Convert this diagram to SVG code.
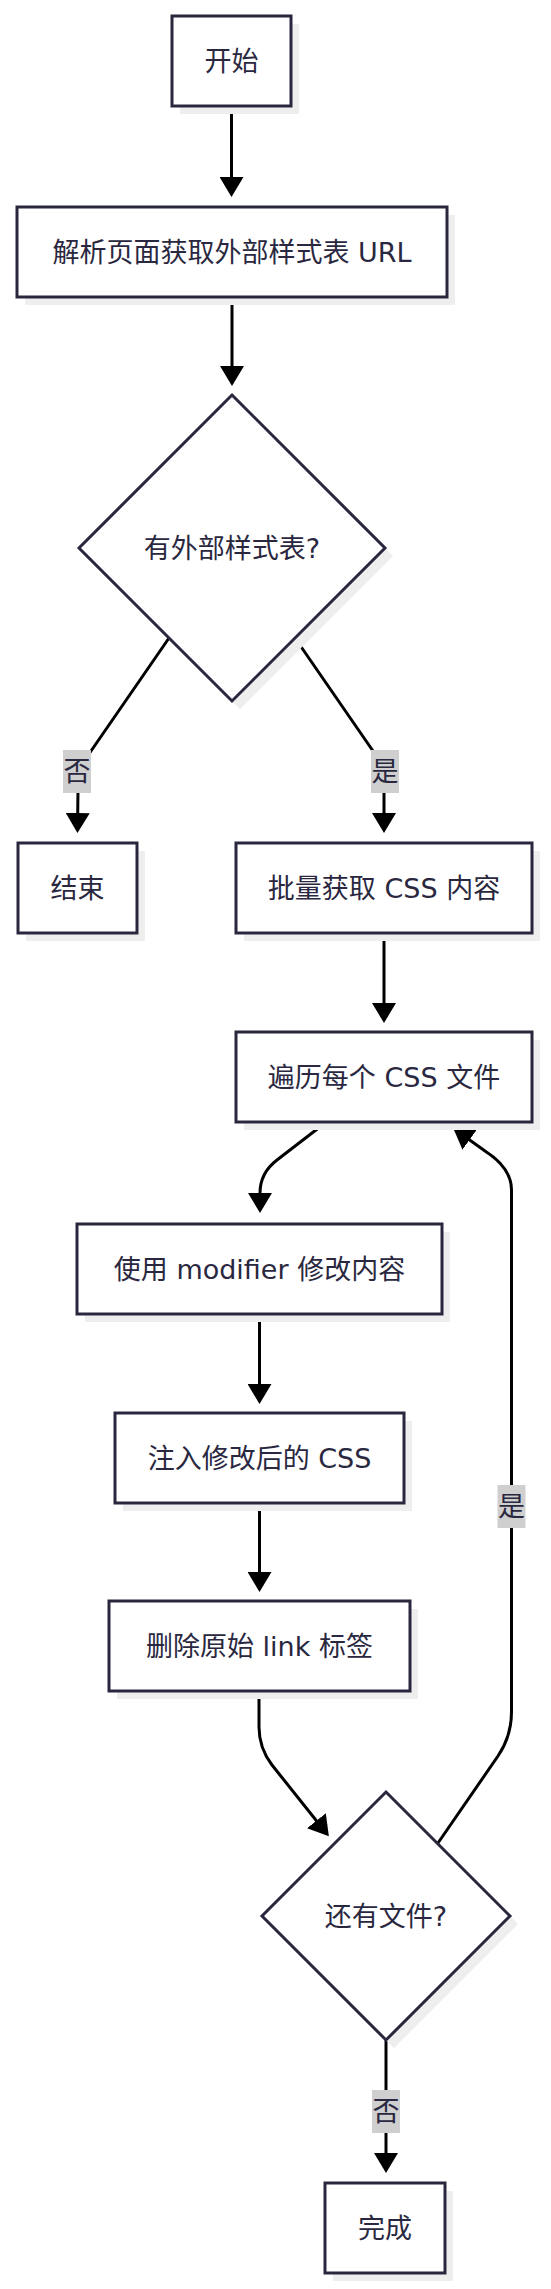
<svg xmlns="http://www.w3.org/2000/svg" width="551" height="2289" viewBox="0 0 551 2289">
<style>
  .bg { fill: #ffffff; }
  .node { fill: #ffffff; stroke: #28273d; stroke-width: 3; }
  .shadow { fill: #eeeeee; stroke: none; }
  .txt { font-family: "DejaVu Sans", "Noto Sans CJK SC", sans-serif; font-size: 27px; fill: #2a2840; text-anchor: middle; }
  .edge { fill: none; stroke: #000000; stroke-width: 3; marker-end: url(#arrow); }
  .lblbg { fill: #cfcfcf; stroke: none; }
</style>
<defs>
  <marker id="arrow" markerUnits="userSpaceOnUse" markerWidth="20" markerHeight="24" viewBox="0 0 20 24" refX="17" refY="12" orient="auto">
    <path d="M0,0 L20,12 L0,24 z" fill="#000000"/>
  </marker>
</defs>
<rect class="bg" x="0" y="0" width="551" height="2289"/>

<g id="connectors">
  <path class="edge" d="M231.5,107 L231.5,194"/>
  <path class="edge" d="M232,298 L232,383"/>
  <path class="edge" d="M169,638 L91,751 Q78,770 78,790 L77.5,830"/>
  <path class="edge" d="M295,638 L373,751 Q384,767 384,790 L384,830"/>
  <path class="edge" d="M384,934 L384,1020"/>
  <path class="edge" d="M325,1123 L277,1160 Q260,1173 260,1193 L260,1210"/>
  <path class="edge" d="M259.5,1315 L259.5,1401"/>
  <path class="edge" d="M259.5,1504 L259.5,1589"/>
  <path class="edge" d="M259,1692 L259,1727 Q259,1748 272,1765 L327,1834"/>
  <path class="edge" d="M386,2040 L386,2170"/>
  <path class="edge" d="M438,1843 L498,1756 Q511.5,1736 511.5,1712 L511.5,1190 Q511.5,1168 485,1151 L455.7,1130"/>
</g>

<g id="edge-labels">
  <g id="label-no-1">
    <rect class="lblbg" x="63" y="750" width="28" height="43"/>
    <text class="txt" x="77" y="781">否</text>
  </g>
  <g id="label-yes-1">
    <rect class="lblbg" x="371" y="750" width="28" height="43"/>
    <text class="txt" x="385" y="781">是</text>
  </g>
  <g id="label-yes-2">
    <rect class="lblbg" x="497.5" y="1485" width="28" height="43"/>
    <text class="txt" x="511.5" y="1516">是</text>
  </g>
  <g id="label-no-2">
    <rect class="lblbg" x="372" y="2090" width="28" height="43"/>
    <text class="txt" x="386" y="2121">否</text>
  </g>
</g>

<g id="node-start">
  <rect class="shadow" x="180" y="24" width="119" height="90"/>
  <rect class="node" x="172" y="16" width="119" height="90"/>
  <text class="txt" x="231.5" y="70.5">开始</text>
</g>

<g id="node-parse">
  <rect class="shadow" x="25" y="215" width="430" height="90"/>
  <rect class="node" x="17" y="207" width="430" height="90"/>
  <text class="txt" x="232" y="261.5">解析页面获取外部样式表 URL</text>
</g>

<g id="node-has-external">
  <polygon class="shadow" points="240,403 393,556 240,709 87,556"/>
  <polygon class="node" points="232,395 385,548 232,701 79,548"/>
  <text class="txt" x="232" y="557.5">有外部样式表?</text>
</g>

<g id="node-end">
  <rect class="shadow" x="26" y="851" width="119" height="90"/>
  <rect class="node" x="18" y="843" width="119" height="90"/>
  <text class="txt" x="77.5" y="897.5">结束</text>
</g>

<g id="node-fetch">
  <rect class="shadow" x="244" y="851" width="296" height="90"/>
  <rect class="node" x="236" y="843" width="296" height="90"/>
  <text class="txt" x="384" y="897.5">批量获取 CSS 内容</text>
</g>

<g id="node-loop">
  <rect class="shadow" x="244" y="1040" width="296" height="90"/>
  <rect class="node" x="236" y="1032" width="296" height="90"/>
  <text class="txt" x="384" y="1086.5">遍历每个 CSS 文件</text>
</g>

<g id="node-modify">
  <rect class="shadow" x="85" y="1232" width="365" height="90"/>
  <rect class="node" x="77" y="1224" width="365" height="90"/>
  <text class="txt" x="259.5" y="1278.5">使用 modifier 修改内容</text>
</g>

<g id="node-inject">
  <rect class="shadow" x="123" y="1421" width="289" height="90"/>
  <rect class="node" x="115" y="1413" width="289" height="90"/>
  <text class="txt" x="259.5" y="1467.5">注入修改后的 CSS</text>
</g>

<g id="node-remove">
  <rect class="shadow" x="117" y="1609" width="301" height="90"/>
  <rect class="node" x="109" y="1601" width="301" height="90"/>
  <text class="txt" x="259.5" y="1655.5">删除原始 link 标签</text>
</g>

<g id="node-more-files">
  <polygon class="shadow" points="394,1800 518,1924 394,2048 270,1924"/>
  <polygon class="node" points="386,1792 510,1916 386,2040 262,1916"/>
  <text class="txt" x="386" y="1925.5">还有文件?</text>
</g>

<g id="node-done">
  <rect class="shadow" x="333" y="2191" width="120" height="90"/>
  <rect class="node" x="325" y="2183" width="120" height="90"/>
  <text class="txt" x="385" y="2237.5">完成</text>
</g>
</svg>
